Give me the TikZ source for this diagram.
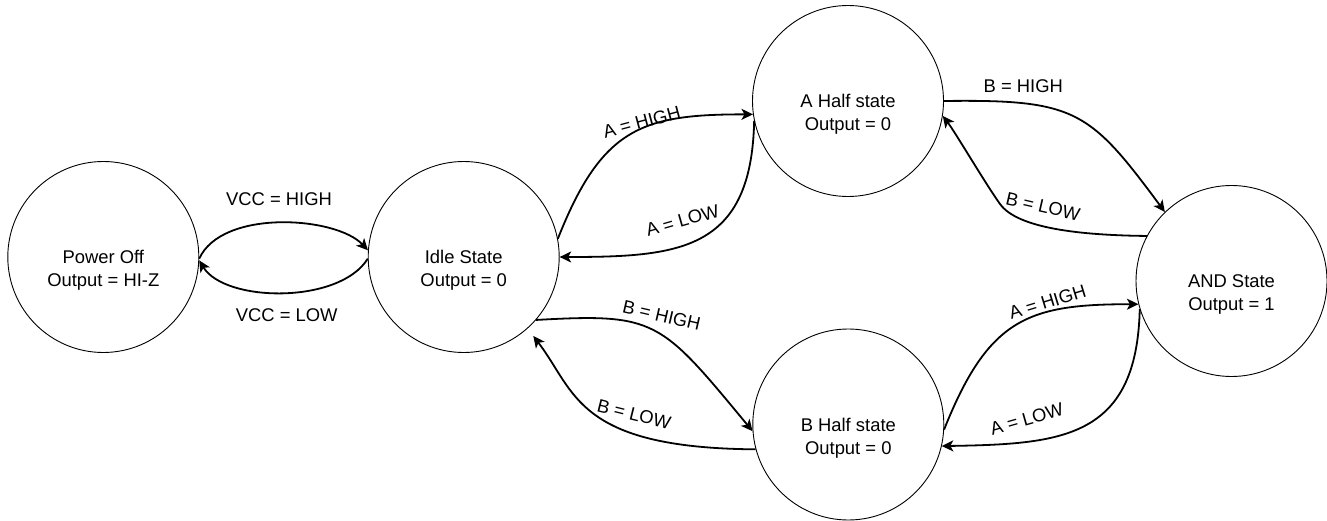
\documentclass[tikz,border=0pt]{standalone}
\usepackage{fontspec}
\setmainfont{Liberation Sans}
\usetikzlibrary{arrows.meta,calc}
\newcommand{\stxt}[2]{\raisebox{-6.6pt}[0pt][0pt]{\begin{tabular}[t]{@{}c@{}}#1\\#2\end{tabular}}}
\begin{document}
\begin{tikzpicture}[x=1pt,y=-1pt,
  state/.style={circle,draw,line width=0.9pt,minimum size=191pt,inner sep=0pt,font=\fontsize{18.4}{23}\selectfont},
  lbl/.style={inner sep=0pt,font=\fontsize{18.4}{23}\selectfont},
  edge/.style={line width=1.8pt,-{Stealth[length=11.5pt,width=11pt,inset=3pt]}}]
\useasboundingbox (0,0) rectangle (1327,521);
\node[state] (po) at (103.3,257) {\stxt{Power Off}{Output = HI-Z}};
\node[state] (idle) at (463.7,257) {\stxt{Idle State}{Output = 0}};
\node[state] (ahalf) at (848,101) {\stxt{A Half state}{Output = 0}};
\node[state] (bhalf) at (848.3,424.5) {\stxt{B Half state}{Output = 0}};
\node[state] (andst) at (1231.5,281) {\stxt{AND State}{Output = 1}};
% VCC
\draw[edge] (po.-1.8) .. controls +(22.7,-50) and +(-32,-34) .. (idle.176.8);
\draw[edge] (idle.-179.4) .. controls +(-28.3,45.7) and +(25.7,42.3) .. (po.-2.8);
% A half
\draw[edge] (idle.11.1) .. controls +(44.1,-111.9) and +(-110,0) .. (ahalf.-172.6);
\draw[edge] (ahalf.-168.8) .. controls +(-2.7,130) and +(119.7,0) .. (idle.-0.8);
% B half
\draw[edge] (idle.-41.8) .. controls +(120,-6.7) and +(-92.7,-112) .. (bhalf.-176.7);
\coordinate (idlegap) at ($(idle.center)+(69.6,79)$);
\draw[edge] (bhalf.-165.7) .. controls +(-180,-1.3) and +(42.4,55.3) .. (idlegap);
% to AND
\draw[edge] (ahalf.0) .. controls +(131.7,-1.7) and +(-75.3,-101.7) .. (andst.134.5);
\coordinate (bend) at (1000,204);
\draw[edge] (andst.152.4) .. controls +(-66.7,-0.7) and +(17.4,24.3) .. (bend)
  .. controls +(-14.5,-20.2) and +(12.2,15.8) .. (ahalf.-9.4);
\draw[edge] (bhalf.-3.3) .. controls +(44.4,-111.6) and +(-110,0) .. (andst.-166);
\draw[edge] (andst.-163.8) .. controls +(-3,130) and +(119.3,-2) .. (bhalf.-13.8);
% labels
\node[lbl] (l1) at (279,199) {VCC = HIGH};
\node[lbl] (l2) at (286.7,315) {VCC = LOW};
\node[lbl,rotate=15] (l3) at (641.7,122) {A = HIGH};
\node[lbl,rotate=16] (l4) at (682.5,220.5) {A = LOW};
\node[lbl,rotate=-13] (l5) at (661.7,315.5) {B = HIGH};
\node[lbl,rotate=-14] (l6) at (634,414) {B = LOW};
\node[lbl] (l7) at (1023.3,86) {B = HIGH};
\node[lbl,rotate=-13] (l8) at (1043,206.5) {B = LOW};
\node[lbl,rotate=17] (l9) at (1047.5,302) {A = HIGH};
\node[lbl,rotate=16] (l10) at (1026.7,419) {A = LOW};
\end{tikzpicture}
\end{document}
